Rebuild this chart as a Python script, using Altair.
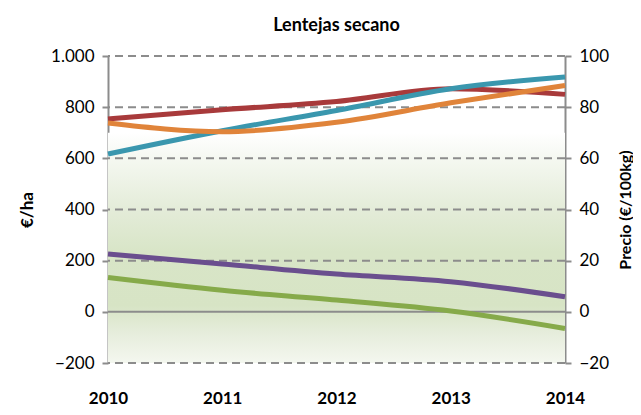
import altair as alt
import pandas as pd

years = ["2010", "2011", "2012", "2013", "2014"]
series_names = ["Rojo", "Azul", "Naranja", "Morado", "Verde"]
series_colors = ["#a83a3b", "#3a97ae", "#e0843a", "#6a4e8e", "#86aa4a"]
red_vals = [754, 790, 822, 872, 850]
teal_vals = [617, 708, 787, 872, 918]
orange_vals = [738, 704, 741, 817, 885]
purple_vals = [226, 187, 148, 118, 59]
green_vals = [134, 84, 46, 3, -65]

left_ticks = [-200, 0, 200, 400, 600, 800, 1000]
right_ticks = [-20, 0, 20, 40, 60, 80, 100]
grid_vals = [-200, 200, 400, 600, 800, 1000]
zero_vals = [0]
band = {"top": [700], "bottom": [-200]}

rows = []
for name, vals in zip(series_names, [red_vals, teal_vals, orange_vals, purple_vals, green_vals]):
    for y, v in zip(years, vals):
        rows.append({"year": y, "serie": name, "value": v})
df = pd.DataFrame(rows)

FONT = "Lato"
ydom = alt.Scale(domain=[-200, 1000], nice=False, zero=False)
xsc = alt.Scale(type="point", padding=0, domain=years)

left_axis = alt.Axis(values=left_ticks, title="€/ha", grid=False,
                     labelExpr="replace(datum.label, ',', '.')",
                     labelFont=FONT, labelFontSize=17, labelColor="#000000",
                     labelPadding=8, tickSize=6, tickColor="#8c8c8c", tickWidth=2,
                     domainColor="#8c8c8c", domainWidth=2,
                     titleFont=FONT, titleFontSize=17, titleFontWeight="bold",
                     titleColor="#000000", titlePadding=14)

grad = alt.Gradient(
    gradient="linear",
    x1=0, x2=0, y1=0, y2=1,
    stops=[
        alt.GradientStop(color="#ffffff", offset=0),
        alt.GradientStop(color="#f5f8f1", offset=0.11),
        alt.GradientStop(color="#e4ecd9", offset=0.33),
        alt.GradientStop(color="#d8e5c7", offset=0.52),
        alt.GradientStop(color="#d7e4c5", offset=0.75),
        alt.GradientStop(color="#e6eddc", offset=0.87),
        alt.GradientStop(color="#f4f7ef", offset=1),
    ],
)

bg = alt.Chart(pd.DataFrame(band)).mark_rect(fill=grad).encode(
    y=alt.Y("top:Q", scale=ydom, axis=left_axis),
    y2="bottom:Q",
)

grid = alt.Chart(pd.DataFrame({"v": grid_vals})).mark_rule(
    color="#8c8c8c", strokeWidth=2, strokeDash=[8, 5]
).encode(y=alt.Y("v:Q", scale=ydom, axis=left_axis))

zero = alt.Chart(pd.DataFrame({"v": zero_vals})).mark_rule(
    color="#8c8c8c", strokeWidth=2
).encode(y=alt.Y("v:Q", scale=ydom, axis=left_axis))

lines = alt.Chart(df).mark_line(strokeWidth=5, interpolate="monotone").encode(
    x=alt.X("year:O", scale=xsc, sort=years,
            axis=alt.Axis(title=None, labelAngle=0, domain=False, ticks=False,
                          labelFont=FONT, labelFontSize=17, labelFontWeight="bold",
                          labelColor="#000000", labelPadding=27)),
    y=alt.Y("value:Q", scale=ydom, axis=left_axis),
    color=alt.Color("serie:N", scale=alt.Scale(domain=series_names, range=series_colors), legend=None),
    detail="serie:N",
)

left = alt.layer(bg, grid, zero, lines)

right = alt.Chart(pd.DataFrame({"p": right_ticks})).mark_point(opacity=0).encode(
    y=alt.Y("p:Q", scale=alt.Scale(domain=[-20, 100], nice=False, zero=False),
            axis=alt.Axis(orient="right", values=right_ticks, title="Precio (€/100kg)", grid=False,
                          labelFont=FONT, labelFontSize=17, labelColor="#000000",
                          labelPadding=8, tickSize=6, tickColor="#8c8c8c", tickWidth=2,
                          domainColor="#8c8c8c", domainWidth=2,
                          titleFont=FONT, titleFontSize=16, titleFontWeight="bold",
                          titleColor="#000000", titlePadding=25, titleAngle=270)),
)

chart = alt.layer(left, right).resolve_scale(y="independent").properties(
    width=457,
    height=307,
    title=alt.TitleParams("Lentejas secano", font=FONT, fontSize=18, fontWeight="bold",
                          color="#000000", anchor="middle", offset=12),
    autosize=alt.AutoSizeParams(type="none"),
    padding={"left": 100, "top": 48, "right": 68, "bottom": 44},
).configure_view(stroke=None)

chart.save("out.html", embed_options={"renderer": "svg", "actions": False})
